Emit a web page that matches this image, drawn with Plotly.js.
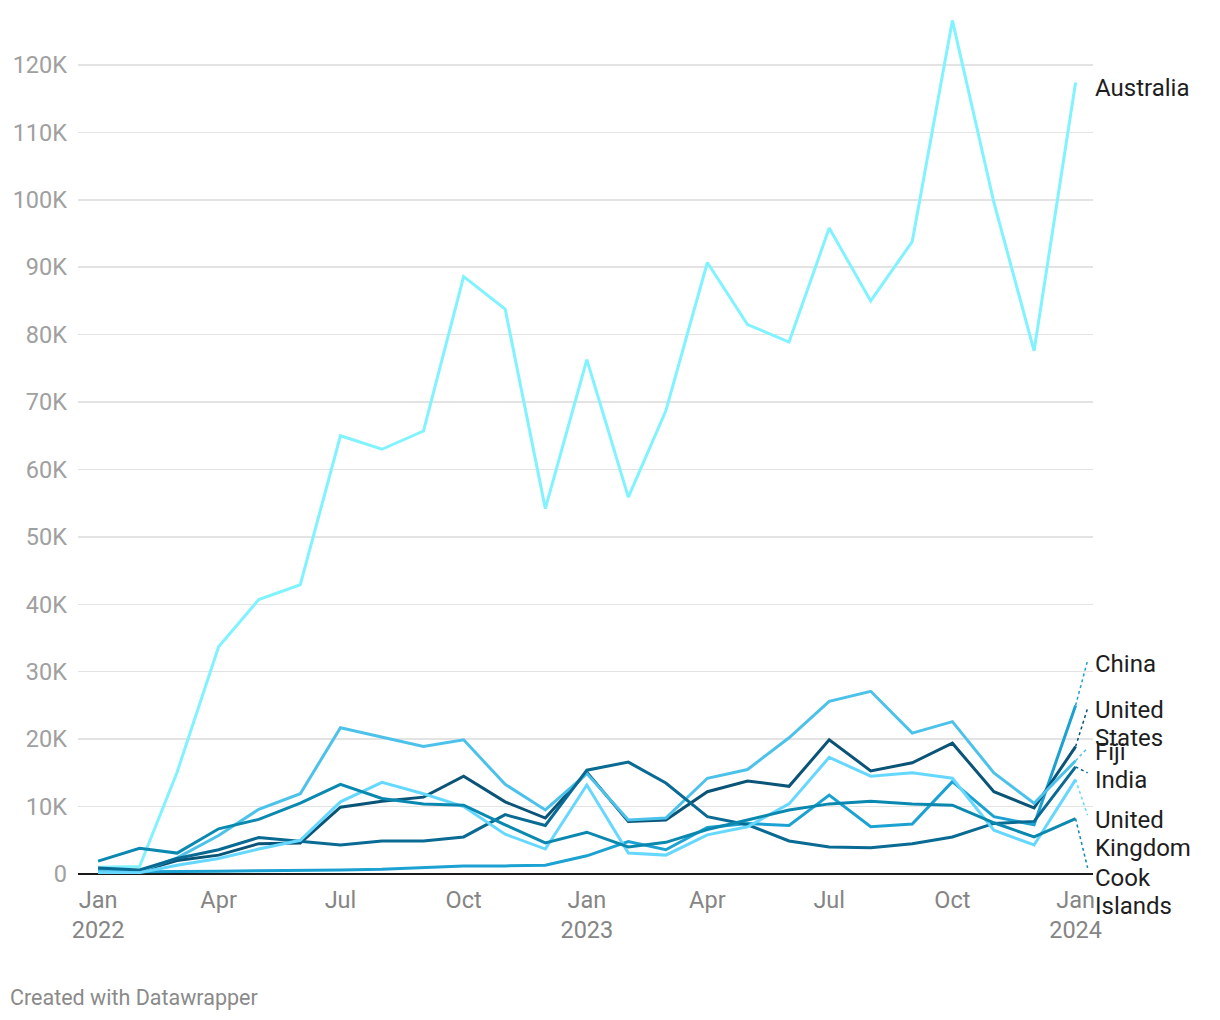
<!DOCTYPE html>
<html>
<head>
<meta charset="utf-8">
<script src="https://cdn.plot.ly/plotly-3.0.1.min.js"></script>
<style>
  html, body { margin: 0; padding: 0; background: #ffffff; }
  #chart { width: 1220px; height: 1020px; }
</style>
</head>
<body>
<div id="chart"></div>
<script>
// ---- Data ----
const months = ['2022-01-01','2022-02-01','2022-03-01','2022-04-01','2022-05-01','2022-06-01',
  '2022-07-01','2022-08-01','2022-09-01','2022-10-01','2022-11-01','2022-12-01',
  '2023-01-01','2023-02-01','2023-03-01','2023-04-01','2023-05-01','2023-06-01',
  '2023-07-01','2023-08-01','2023-09-01','2023-10-01','2023-11-01','2023-12-01','2024-01-01'];

const seriesNames = ['Australia','China','United States','Fiji','India','United Kingdom','Cook Islands'];
const seriesLabelLines = [['Australia'],['China'],['United','States'],['Fiji'],['India'],['United','Kingdom'],['Cook','Islands']];

const australia = [1000, 1100, 15100, 33700, 40700, 42900, 65000, 63000, 65700, 88600, 83800, 54200,
  76300, 55900, 68700, 90700, 81500, 78900, 95800, 85000, 93800, 126600, 99600, 77600, 117400];
const china = [300, 300, 400, 400, 500, 500, 600, 700, 900, 1200, 1200, 1300,
  2700, 4800, 3600, 6900, 7500, 7200, 11700, 7000, 7400, 13700, 8500, 7300, 25000];
const unitedStates = [600, 400, 2000, 2800, 4500, 4600, 9900, 10800, 11400, 14500, 10700, 8300,
  15100, 7800, 8000, 12200, 13800, 13000, 19900, 15300, 16500, 19400, 12200, 9800, 18900];
const fiji = [500, 400, 2400, 5700, 9600, 11900, 21700, 20300, 18900, 19900, 13300, 9500,
  14900, 8000, 8300, 14200, 15500, 20200, 25600, 27100, 20900, 22600, 15000, 10500, 16800];
const india = [900, 600, 2300, 3600, 5400, 4800, 4300, 4900, 4900, 5500, 8800, 7200,
  15400, 16600, 13500, 8500, 7300, 4900, 4000, 3900, 4500, 5500, 7500, 7800, 15900];
const unitedKingdom = [200, 200, 1300, 2300, 3700, 5000, 10700, 13600, 11900, 10000, 5900, 3700,
  13200, 3100, 2800, 5800, 7000, 10400, 17300, 14500, 15000, 14200, 6500, 4300, 14000];
const cookIslands = [1900, 3800, 3100, 6700, 8100, 10500, 13300, 11200, 10400, 10200, 7300, 4600,
  6200, 4000, 4700, 6600, 8000, 9500, 10400, 10800, 10400, 10200, 7600, 5500, 8200];

const seriesValues = [australia, china, unitedStates, fiji, india, unitedKingdom, cookIslands];
const seriesColors = ['#80f3ff', '#1ca2d2', '#0a5478', '#4cc2ea', '#096a93', '#66d8ff', '#0b88b0'];

// label placement (data units): first label line centre and connector end
const labelFirstLine = [116580, 31150, 24330, 18100, 13940, 8010, -590];
const connectorEnd = [null, 31700, 24600, 18700, 15000, 8700, 900];

const yTickVals = [0, 10000, 20000, 30000, 40000, 50000, 60000, 70000, 80000, 90000, 100000, 110000, 120000];
const yTickText = ['0', '10K', '20K', '30K', '40K', '50K', '60K', '70K', '80K', '90K', '100K', '110K', '120K'];
const xTickVals = ['2022-01-01','2022-04-01','2022-07-01','2022-10-01','2023-01-01','2023-04-01','2023-07-01','2023-10-01','2024-01-01'];
const xTickText = ['Jan<br>2022','Apr','Jul','Oct','Jan<br>2023','Apr','Jul','Oct','Jan<br>2024'];

// ---- Build chart ----
const yMax = 128150;
const FONT = 'Roboto, "Open Sans", sans-serif';
const LINE_GAP = 28;

const traces = seriesNames.map((name, i) => ({
  type: 'scatter',
  mode: 'lines',
  name: name,
  x: months,
  y: seriesValues[i],
  line: { color: seriesColors[i], width: 3 },
  hoverinfo: 'x+y+name'
}));

const lastX = months[months.length - 1];
const shapes = [];
const annotations = [];
seriesNames.forEach((name, i) => {
  const vals = seriesValues[i];
  const lastV = vals[vals.length - 1];
  if (connectorEnd[i] !== null) {
    shapes.push({
      type: 'line', xref: 'x', yref: 'y',
      x0: lastX, y0: lastV, x1: '2024-01-10', y1: connectorEnd[i],
      line: { color: seriesColors[i], width: 1.5, dash: 'dot' }
    });
  }
  seriesLabelLines[i].forEach((txt, k) => {
    annotations.push({
      xref: 'paper', yref: 'paper',
      x: 1, xanchor: 'left', xshift: 0,
      y: labelFirstLine[i] / yMax, yanchor: 'middle', yshift: -LINE_GAP * k,
      text: txt, showarrow: false, align: 'left',
      font: { family: FONT, size: 24, color: '#1e1e1e' }
    });
  });
});

annotations.push({
  xref: 'paper', yref: 'paper',
  x: -78 / 1015, xanchor: 'left', xshift: 8,
  y: (874 - 997) / 864, yanchor: 'middle',
  text: 'Created with Datawrapper', showarrow: false,
  font: { family: FONT, size: 21.5, color: '#8a8a8a' }
});

const layout = {
  width: 1220, height: 1020,
  margin: { l: 78, r: 127, t: 10, b: 146 },
  paper_bgcolor: '#ffffff', plot_bgcolor: '#ffffff',
  showlegend: false,
  font: { family: FONT },
  xaxis: {
    type: 'date',
    range: ['2021-12-17', '2024-01-14'],
    tickmode: 'array', tickvals: xTickVals, ticktext: xTickText,
    showgrid: false, zeroline: false, showline: false,
    ticks: '', ticklabelstandoff: 9,
    tickfont: { family: FONT, size: 23.5, color: '#858585' }
  },
  yaxis: {
    range: [0, yMax],
    tickmode: 'array', tickvals: yTickVals, ticktext: yTickText,
    showgrid: true, gridcolor: '#e3e3e3', gridwidth: 1.5,
    zeroline: true, zerolinecolor: '#1a1a1a', zerolinewidth: 2,
    showline: false, ticks: '', ticklabelstandoff: 10,
    tickfont: { family: FONT, size: 23.5, color: '#a0a0a0' }
  },
  shapes: shapes,
  annotations: annotations
};

Plotly.newPlot('chart', traces, layout, { displayModeBar: false, staticPlot: true });
</script>
</body>
</html>
